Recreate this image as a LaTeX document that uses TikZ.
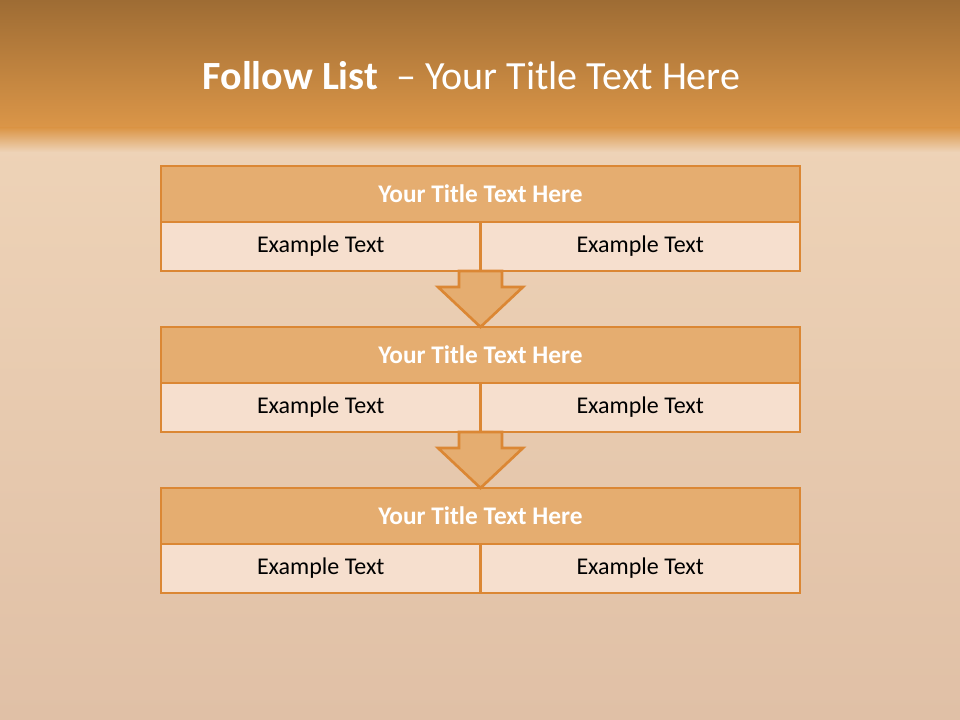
\documentclass[tikz,border=0pt]{standalone}
\usepackage{fontspec}
\setmainfont{Carlito}
\usetikzlibrary{positioning,calc}
\definecolor{rustdark}{RGB}{158,108,52}
\definecolor{rustband}{RGB}{219,150,72}
\definecolor{rustpaper}{RGB}{238,211,183}
\definecolor{rustdust}{RGB}{224,192,166}
\definecolor{rustline}{RGB}{219,135,52}
\definecolor{rusthead}{RGB}{229,173,112}
\definecolor{rustcell}{RGB}{246,223,206}

\begin{document}
\begin{tikzpicture}[
    x=0.75pt, y=-0.75pt,
    headrow/.style={draw=rustline, line width=2pt, fill=rusthead, minimum width=479.25pt, minimum height=42pt, inner sep=0pt, outer sep=0pt, text=white, font=\fontsize{19}{22}\selectfont\bfseries},
    cellrow/.style={draw=rustline, line width=2pt, fill=rustcell, minimum width=239.6pt, minimum height=36.75pt, inner sep=0pt, outer sep=0pt, font=\fontsize{18}{21}\selectfont},
    flowarrow/.style={draw=rustline, line width=2pt, fill=rusthead, line join=miter}
]
\useasboundingbox (0,0) rectangle (960,720);
% backdrop
\shade[top color=rustpaper, bottom color=rustdust] (0,140) rectangle (960,720);
\shade[top color=rustdark, bottom color=rustband] (0,0) rectangle (960,128);
\shade[top color=rustband, bottom color=rustpaper] (0,128) rectangle (960,152);
\node[text=white, font=\fontsize{30}{34}\selectfont] (slidetitle) at (471.5,76) {\textbf{Follow List}\ \ – Your Title Text Here};

\foreach \i/\y in {1/194, 2/355, 3/516} {
    \node[headrow] (head\i) at (480.5,\y) {Your Title Text Here};
    \node[cellrow, anchor=north east] (left\i) at (head\i.south) {Example Text};
    \node[cellrow, anchor=north west] (right\i) at (head\i.south) {Example Text};
}
\foreach \i/\j in {1/2, 2/3} {
    \coordinate (tip\i) at (head\j.north);
    \draw[flowarrow] ($(left\i.south east)+(-21.5,0)$) -- ($(left\i.south east)+(-21.5,16)$) -- ($(left\i.south east)+(-42.5,16)$) -- (tip\i) -- ($(left\i.south east)+(42.5,16)$) -- ($(left\i.south east)+(21.5,16)$) -- ($(left\i.south east)+(21.5,0)$) -- cycle;
}
\end{tikzpicture}
\end{document}
